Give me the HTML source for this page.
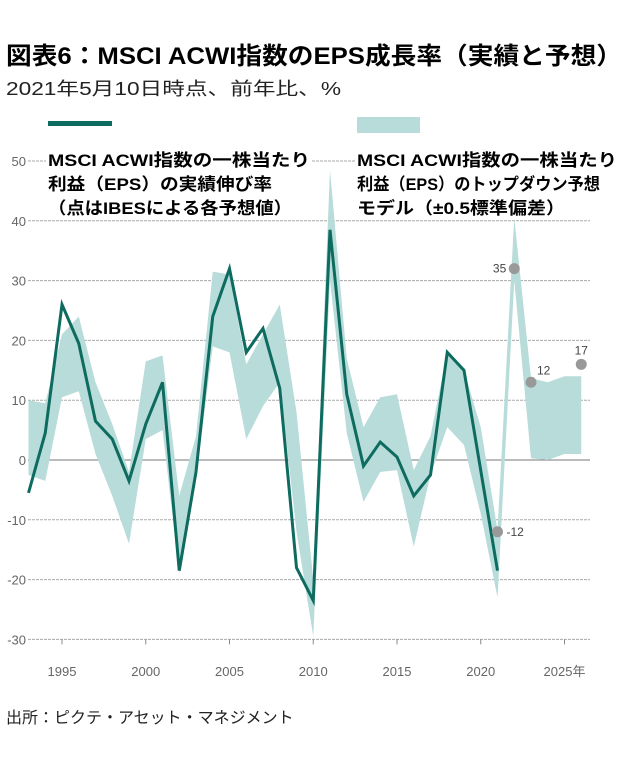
<!DOCTYPE html>
<html><head><meta charset="utf-8"><style>
body{margin:0;background:#fff;width:631px;height:758px;overflow:hidden;font-family:"Liberation Sans","Noto Sans CJK JP",sans-serif}
#src{position:absolute;left:6px;top:704px;font-size:16px;color:#222;white-space:nowrap}
svg{position:absolute;left:0;top:0;font-family:"Liberation Sans","Noto Sans CJK JP",sans-serif}
</style></head><body>
<div id="src">出所：ピクテ・アセット・マネジメント</div>
<svg id="chart" width="631" height="758">
<text x="6" y="64" font-size="24" font-weight="bold" fill="#000" textLength="616" lengthAdjust="spacingAndGlyphs">図表6：MSCI ACWI指数のEPS成長率（実績と予想）</text>
<text x="6" y="95" font-size="18" fill="#222" textLength="335" lengthAdjust="spacingAndGlyphs">2021年5月10日時点、前年比、%</text>
</svg>
<script>
const years=[1993,1994,1995,1996,1997,1998,1999,2000,2001,2002,2003,2004,2005,2006,2007,2008,2009,2010,2011,2012,2013,2014,2015,2016,2017,2018,2019,2020,2021];
const actual=[-5.5,4.5,26,19.5,6.5,3.5,-3.5,6,13,-18.5,-2,24,32,18,22,12,-18,-23.5,38.5,11,-1,3,0.5,-6,-2.5,18,15,-1.75,-18.5];
const bandYears=[1993,1994,1995,1996,1997,1998,1999,2000,2001,2002,2003,2004,2005,2006,2007,2008,2009,2010,2011,2012,2013,2014,2015,2016,2017,2018,2019,2020,2021,2022,2023,2024,2025,2026];
const bandUpper=[10,9.5,21,24,13,6,-2,16.5,17.5,-6,4,31.5,31,16,21,26,8,-20,48.5,17,5.5,10.5,11,-1.7,4,18,15,5.5,-11.7,40.5,13.7,13,14,14];
const bandLower=[-2.5,-3.5,10.5,11.5,1,-6,-14,3.5,5,-19,-3,19,18,3.5,9,13,-12,-29.5,30,4.5,-7,-2,-1.7,-14.5,-2.5,5.5,2.5,-9,-23,30,0.3,0,1,1];
const fcYears=[2021,2022,2023,2026];
const fcValues=[-12,32,13,16];
const fcLabels=["-12","35","12","17"];
const yTicks=[50,40,30,20,10,0,-10,-20,-30];
const xTicks=[1995,2000,2005,2010,2015,2020,2025];
const xTickLabels=["1995","2000","2005","2010","2015","2020","2025年"];

const NS="http://www.w3.org/2000/svg";
const svg=document.getElementById('chart');
const X=y=>62+(y-1995)*16.75;
const Y=v=>460-v*5.98;
function el(t,a){const e=document.createElementNS(NS,t);for(const k in a)e.setAttribute(k,a[k]);svg.appendChild(e);return e;}
yTicks.forEach(v=>{
  const g=el('line',{x1:28,x2:590,y1:Y(v),y2:Y(v),stroke:v===0?'#777':'#aaa','stroke-width':1,'stroke-dasharray':v===0?'':'3,1'});
  
  
  const t=el('text',{x:26,y:Y(v)+5,'text-anchor':'end','font-size':13,fill:'#666'});
  t.textContent=v;
  
  
});
xTicks.forEach((yr,i)=>{
  const t=el('text',{x:X(yr),y:676,'text-anchor':'middle','font-size':13,fill:'#666'});
  t.textContent=xTickLabels[i];
  
  
  const k=el('line',{x1:X(yr),x2:X(yr),y1:Y(-30),y2:Y(-30)+5,stroke:'#888'});
  
  
});
let d='';
bandYears.forEach((yr,i)=>{d+=(i?'L':'M')+X(yr)+','+Y(bandUpper[i]);});
for(let i=bandYears.length-1;i>=0;i--)d+='L'+X(bandYears[i])+','+Y(bandLower[i]);
const band=el('path',{d:d+'Z',fill:'#b8dcda'});


const pts=years.map((yr,i)=>X(yr)+','+Y(actual[i])).join(' ');
const line=el('polyline',{points:pts,fill:'none',stroke:'#0e6b5f','stroke-width':3,'stroke-linejoin':'miter'});


fcYears.forEach((yr,i)=>{
  const c=el('circle',{cx:X(yr),cy:Y(fcValues[i]),r:5.5,fill:'#999'});
  
  
  let tx=X(yr),ty=Y(fcValues[i]),anc='start';
  if(i===0){tx+=9;ty+=4;}else if(i===1){tx-=8;ty+=4;anc='end';}else if(i===2){tx+=6;ty-=8;}else{ty-=10;anc='middle';}
  const t=el('text',{x:tx,y:ty,'text-anchor':anc,'font-size':12,fill:'#444'});
  t.textContent=fcLabels[i];
  
  
});
const l1=el('rect',{x:48,y:121,width:64,height:5,fill:'#0e6b5f'});


const l2=el('rect',{x:357,y:117,width:63,height:16,fill:'#b8dcda'});


function legText(x,lines,widths,name){
  lines.forEach((s,i)=>{
    const w=el('rect',{x:x-2,y:149+i*24,width:widths[i]+4,height:22,fill:'#fff'});
    const t=el('text',{x:x,y:166+i*24,'font-size':17,'font-weight':'bold',fill:'#000',textLength:widths[i],lengthAdjust:'spacingAndGlyphs'});
    t.textContent=s;
    
    
  });
}
legText(48,['MSCI ACWI指数の一株当たり','利益（EPS）の実績伸び率','（点はIBESによる各予想値）'],[262,224,244],'legend-actual-text');
legText(357,['MSCI ACWI指数の一株当たり','利益（EPS）のトップダウン予想','モデル（±0.5標準偏差）'],[260,243,208],'legend-model-text');
</script>
</body></html>
